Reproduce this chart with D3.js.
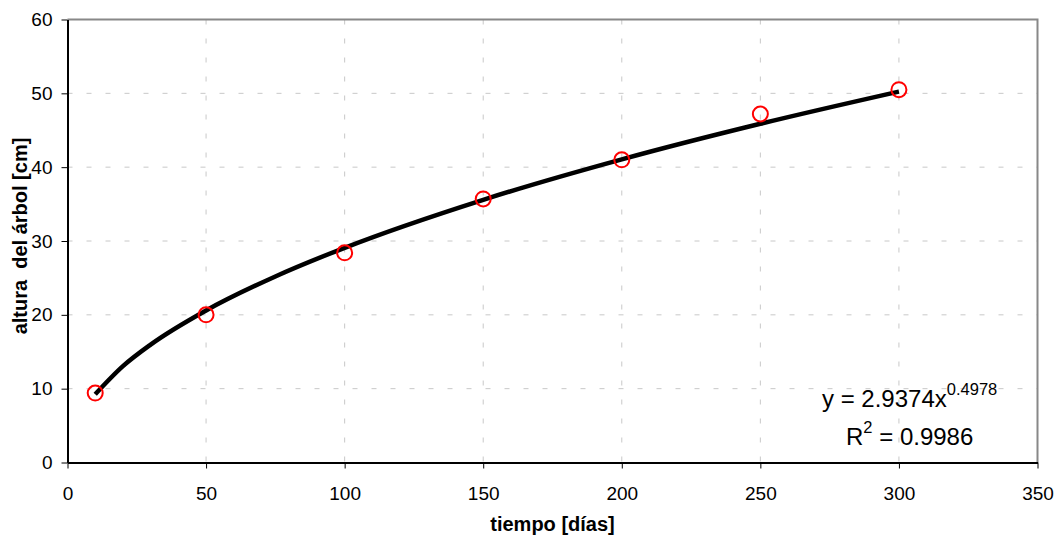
<!DOCTYPE html>
<html>
<head>
<meta charset="utf-8">
<script src="https://cdn.jsdelivr.net/npm/d3@7"></script>
<style>
  body { margin: 0; background: #fff; }
  text { font-family: "Liberation Sans", Arial, sans-serif; }
</style>
</head>
<body>
<div id="chart"></div>
<script>
// measured points
var dias = [10, 50, 100, 150, 200, 250, 300];
var altura = [9.4, 20, 28.4, 35.7, 41, 47.2, 50.5];

// power trendline
var trendX = [10, 20, 30, 50, 75, 100, 150, 200, 250, 300];
var trendY = [9.24, 13.05, 15.97, 20.59, 25.2, 29.08, 35.58, 41.06, 45.88, 50.24];

var xTicks = [0, 50, 100, 150, 200, 250, 300, 350];
var yTicks = [0, 10, 20, 30, 40, 50, 60];

var width = 1058;
var height = 538;
var margin = { top: 19.5, right: 20.5, bottom: 75.5, left: 67.5 };
var innerW = width - margin.left - margin.right;
var innerH = height - margin.top - margin.bottom;

var svg = d3.select("#chart")
  .append("svg")
  .attr("width", width)
  .attr("height", height);

var chartGroup = svg.append("g")
  .attr("transform", "translate(" + margin.left + "," + margin.top + ")");

var xScale = d3.scaleLinear().domain([0, 350]).range([0, innerW]);
var yScale = d3.scaleLinear().domain([0, 60]).range([innerH, 0]);

// dashed grid
chartGroup.append("g")
  .selectAll("line")
  .data(yTicks.filter(function(d) { return d > 0 && d < 60; }))
  .enter()
  .append("line")
  .attr("x1", 0).attr("x2", innerW)
  .attr("y1", function(d) { return yScale(d); })
  .attr("y2", function(d) { return yScale(d); })
  .attr("stroke", "#c8c8c8")
  .attr("stroke-dasharray", "5,14");

chartGroup.append("g")
  .selectAll("line")
  .data(xTicks.filter(function(d) { return d > 0 && d < 350; }))
  .enter()
  .append("line")
  .attr("y1", 0).attr("y2", innerH)
  .attr("x1", function(d) { return xScale(d); })
  .attr("x2", function(d) { return xScale(d); })
  .attr("stroke", "#c8c8c8")
  .attr("stroke-dasharray", "5,14");

// gray frame top and right
chartGroup.append("path")
  .attr("d", "M0,0H" + innerW + "V" + innerH)
  .attr("fill", "none")
  .attr("stroke", "#888")
  .attr("stroke-width", 2);

var xAxis = d3.axisBottom(xScale).tickValues(xTicks).tickSize(6).tickSizeOuter(0);
var gx = chartGroup.append("g")
  .attr("transform", "translate(0," + innerH + ")")
  .call(xAxis);
gx.select(".domain").attr("stroke", "#000").attr("stroke-width", 2);
gx.selectAll(".tick line").attr("stroke", "#000");
gx.selectAll(".tick text")
  .attr("y", 37)
  .attr("dy", 0)
  .style("font-size", "19px")
  .attr("fill", "#000");

var yAxis = d3.axisLeft(yScale).tickValues(yTicks).tickSize(6).tickSizeOuter(0);
var gy = chartGroup.append("g").call(yAxis);
gy.select(".domain").attr("stroke", "#000").attr("stroke-width", 2);
gy.selectAll(".tick line").attr("stroke", "#000");
gy.selectAll(".tick text")
  .attr("x", -15)
  .style("font-size", "19px")
  .attr("fill", "#000");

// trendline
var line = d3.line()
  .x(function(d) { return xScale(d[0]); })
  .y(function(d) { return yScale(d[1]); })
  .curve(d3.curveMonotoneX);

chartGroup.append("path")
  .datum(d3.zip(trendX, trendY))
  .attr("d", line)
  .attr("fill", "none")
  .attr("stroke", "#000")
  .attr("stroke-width", 4.5);

// markers
chartGroup.append("g")
  .selectAll("circle")
  .data(d3.zip(dias, altura))
  .enter()
  .append("circle")
  .attr("cx", function(d) { return xScale(d[0]); })
  .attr("cy", function(d) { return yScale(d[1]); })
  .attr("r", 7.5)
  .attr("fill", "none")
  .attr("stroke", "#ff0000")
  .attr("stroke-width", 2);

// equation label
var eq = svg.append("text")
  .attr("x", 822)
  .attr("y", 407)
  .style("font-size", "24px")
  .attr("fill", "#000");
eq.append("tspan").text("y = 2.9374x");
eq.append("tspan").attr("dy", -12).style("font-size", "16.5px").text("0.4978");

var r2 = svg.append("text")
  .attr("x", 846)
  .attr("y", 445)
  .style("font-size", "24px")
  .attr("fill", "#000");
r2.append("tspan").text("R");
r2.append("tspan").attr("dy", -12).style("font-size", "16.5px").text("2");
r2.append("tspan").attr("dy", 12).text(" = 0.9986");

// axis titles
svg.append("text")
  .attr("x", margin.left + innerW / 2)
  .attr("y", 531)
  .attr("text-anchor", "middle")
  .style("font-size", "20px")
  .style("font-weight", "bold")
  .text("tiempo [días]");

svg.append("text")
  .attr("transform", "translate(27,236) rotate(-90)")
  .attr("text-anchor", "middle")
  .style("font-size", "20px")
  .style("font-weight", "bold")
  .style("white-space", "pre")
  .text("altura  del árbol [cm]");
</script>
</body>
</html>
